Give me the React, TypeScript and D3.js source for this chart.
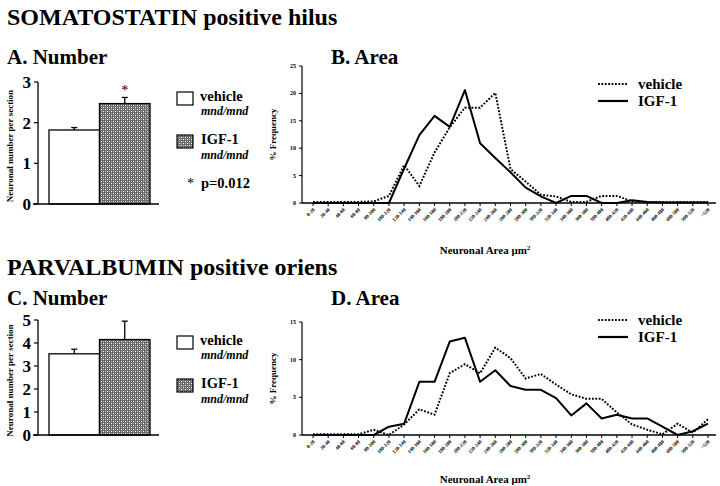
import React from "react";
import * as d3 from "d3";

const categories = ["0-20","20-40","40-60","60-80","80-100","100-120","120-140","140-160","160-180","180-200","200-220","220-240","240-260","260-280","280-300","300-320","320-340","340-360","360-380","380-400","400-420","420-440","440-460","460-480","480-500","500-520",">520"];

const somVehicle = [0.2,0.2,0.2,0.2,0.3,1.3,6.9,3.1,9.2,13.8,17.4,17.4,20.1,6.2,3.9,1.5,1.2,0.2,0.2,1.3,1.3,0.3,0.2,0.2,0.2,0.2,0.2];
const somIGF = [0,0,0,0,0,0,6.3,12.4,15.9,13.9,20.6,10.9,8.2,5.6,2.8,1.2,0,1.3,1.3,0,0,0.5,0.2,0.1,0.1,0.1,0.1];
const parvVehicle = [0.1,0.1,0.1,0.1,0.7,0,1.4,3.4,2.7,8.2,9.4,8.2,11.6,10.2,7.5,8.1,6.7,5.4,4.8,4.8,3.0,1.4,0.7,0.1,1.5,0.3,2.1];
const parvIGF = [0,0,0,0,0,1.1,1.5,7.06,7.06,12.4,12.9,7.06,8.6,6.5,6.0,6.0,4.9,2.6,4.2,2.2,2.7,2.2,2.2,1.1,0,0.5,1.5];

const barGroups = ["vehicle", "IGF-1"];
const somBarMeans = [1.82, 2.47];
const somBarErr = [0.06, 0.15];
const parvBarMeans = [3.53, 4.15];
const parvBarErr = [0.2, 0.8];
const somBarTicks = [0, 1, 2, 3];
const parvBarTicks = [0, 1, 2, 3, 4, 5];
const somFreqTicks = [0, 5, 10, 15, 20, 25];
const parvFreqTicks = [0, 5, 10, 15];

const FONT = "'Liberation Serif', 'Times New Roman', serif";

function BarPanel({ y0, yTop, maxV, ticks, means, errs, star }: any) {
  const x = d3.scaleBand().domain(barGroups).range([49, 150]).paddingInner(0);
  const y = d3.scaleLinear().domain([0, maxV]).range([y0, yTop]);
  const axisX = 38;
  return (
    <g>
      {barGroups.map((g, i) => {
        const bx = x(g)!;
        const bw = x.bandwidth();
        const cx = bx + bw / 2;
        return (
          <g key={g}>
            <rect x={bx} y={y(means[i])} width={bw} height={y0 - y(means[i])}
              fill={i === 0 ? "#fff" : "url(#chk)"} stroke="#000" strokeWidth={1.3} />
            <line x1={cx} x2={cx} y1={y(means[i])} y2={y(means[i] + errs[i])} stroke="#000" strokeWidth={1.3} />
            <line x1={cx - 3} x2={cx + 3} y1={y(means[i] + errs[i])} y2={y(means[i] + errs[i])} stroke="#000" strokeWidth={1.3} />
          </g>
        );
      })}
      {star && (
        <text x={x("IGF-1")! + x.bandwidth() / 2} y={y(means[1] + errs[1]) - 2} textAnchor="middle"
          fontFamily={FONT} fontSize={14} fill="#000">*</text>
      )}
      <line x1={axisX} x2={axisX} y1={y0} y2={yTop} stroke="#000" strokeWidth={1.3} />
      <line x1={33} x2={159} y1={y0} y2={y0} stroke="#000" strokeWidth={1.6} />
      {ticks.map((t: number) => (
        <g key={t}>
          <line x1={axisX - 4} x2={axisX} y1={y(t)} y2={y(t)} stroke="#000" strokeWidth={1.2} />
          <text x={31} y={y(t) + 6} textAnchor="end" fontFamily={FONT} fontWeight="bold" fontSize={17} fill="#000">{t}</text>
        </g>
      ))}
      <text transform={`translate(13,${(y0 + yTop) / 2 + 3}) rotate(-90)`} textAnchor="middle"
        fontFamily={FONT} fontWeight="bold" fontSize={9} fill="#000">Neuronal number per section</text>
    </g>
  );
}

function BarLegend({ top, pval }: any) {
  return (
    <g fontFamily={FONT} fill="#000">
      <rect x={177} y={top} width={16} height={13} fill="#fff" stroke="#000" strokeWidth={1.2} />
      <text x={200} y={top + 9} fontWeight="bold" fontSize={14.5}>vehicle</text>
      <text x={201} y={top + 23} fontStyle="italic" fontWeight="bold" fontSize={12}>mnd/mnd</text>
      <rect x={177} y={top + 43} width={16} height={13} fill="url(#chk)" stroke="#000" strokeWidth={1.2} />
      <text x={201} y={top + 52} fontWeight="bold" fontSize={14.5}>IGF-1</text>
      <text x={201} y={top + 67} fontStyle="italic" fontWeight="bold" fontSize={12}>mnd/mnd</text>
      {pval && (
        <g>
          <text x={187} y={top + 96} fontSize={14}>*</text>
          <text x={201} y={top + 96} fontWeight="bold" fontSize={14.5}>p=0.012</text>
        </g>
      )}
    </g>
  );
}

function AreaPanel({ y0, yTop, maxV, ticks, vehicle, igf, titleY, title, legY, xTitleY }: any) {
  const x = d3.scalePoint().domain(categories).range([313, 708]);
  const y = d3.scaleLinear().domain([0, maxV]).range([y0, yTop]);
  const line = d3.line<number>().x((_, i) => x(categories[i])!).y((d) => y(d));
  return (
    <g fontFamily={FONT} fill="#000">
      <text x={331} y={titleY} fontWeight="bold" fontSize={21}>{title}</text>
      <path d={line(vehicle)!} fill="none" stroke="#000" strokeWidth={2} strokeDasharray="1.8 1.6" />
      <path d={line(igf)!} fill="none" stroke="#000" strokeWidth={2} strokeLinejoin="round" />
      <line x1={302} x2={302} y1={y0} y2={yTop} stroke="#000" strokeWidth={1.2} />
      <line x1={302} x2={716} y1={y0} y2={y0} stroke="#000" strokeWidth={1.6} />
      {ticks.map((t: number) => (
        <g key={t}>
          <line x1={299} x2={302} y1={y(t)} y2={y(t)} stroke="#000" strokeWidth={1} />
          <text x={296} y={y(t) + 2} textAnchor="end" fontWeight="bold" fontSize={6}>{t}</text>
        </g>
      ))}
      {categories.map((c) => (
        <g key={c}>
          <line x1={x(c)} x2={x(c)} y1={y0} y2={y0 + 3} stroke="#000" strokeWidth={1} />
          <text transform={`translate(${x(c)! + 2},${y0 + 7}) rotate(-45)`} textAnchor="end"
            fontWeight="bold" fontSize={5}>{c}</text>
        </g>
      ))}
      <text transform={`translate(276,${(y0 + yTop) / 2}) rotate(-90)`} textAnchor="middle"
        fontWeight="bold" fontSize={9}>% Frequency</text>
      <text x={485} y={xTitleY} textAnchor="middle" fontWeight="bold" fontSize={11}>
        Neuronal Area μm<tspan dy={-4} fontSize={7}>2</tspan>
      </text>
      <line x1={598} x2={628} y1={legY} y2={legY} stroke="#000" strokeWidth={2} strokeDasharray="1.8 1.6" />
      <text x={638} y={legY + 5} fontWeight="bold" fontSize={15}>vehicle</text>
      <line x1={598} x2={628} y1={legY + 17} y2={legY + 17} stroke="#000" strokeWidth={2.2} />
      <text x={638} y={legY + 22} fontWeight="bold" fontSize={15}>IGF-1</text>
    </g>
  );
}

export default function App() {
  return (
    <svg width={720} height={486} style={{ position: "absolute", left: 0, top: 0, background: "#fff" }}>
      <defs>
        <pattern id="chk" patternUnits="userSpaceOnUse" width={4} height={4}>
          <rect width={4} height={4} fill="#6a6a6a" />
          <rect x={1} y={1} width={1} height={1} fill="#fff" />
          <rect x={3} y={3} width={1} height={1} fill="#fff" />
          <rect x={1} y={3} width={1} height={1} fill="#b0b0b0" />
          <rect x={3} y={1} width={1} height={1} fill="#b0b0b0" />
        </pattern>
      </defs>
      <rect width={720} height={486} fill="#fff" />
      <g fontFamily={FONT} fontWeight="bold" fill="#000">
        <text x={7} y={25} fontSize={24}>SOMATOSTATIN positive hilus</text>
        <text x={7} y={64} fontSize={21}>A. Number</text>
        <text x={7} y={275} fontSize={24}>PARVALBUMIN positive oriens</text>
        <text x={7} y={305} fontSize={21}>C. Number</text>
      </g>
      <BarPanel y0={204} yTop={82} maxV={3} ticks={somBarTicks} means={somBarMeans} errs={somBarErr} star={true} />
      <BarLegend top={92} pval={true} />
      <BarPanel y0={435} yTop={320} maxV={5} ticks={parvBarTicks} means={parvBarMeans} errs={parvBarErr} star={false} />
      <BarLegend top={336} pval={false} />
      <AreaPanel y0={203} yTop={66} maxV={25} ticks={somFreqTicks} vehicle={somVehicle} igf={somIGF}
        titleY={64} title="B. Area" legY={84} xTitleY={254} />
      <AreaPanel y0={435} yTop={322} maxV={15} ticks={parvFreqTicks} vehicle={parvVehicle} igf={parvIGF}
        titleY={305} title="D. Area" legY={320} xTitleY={483} />
    </svg>
  );
}
